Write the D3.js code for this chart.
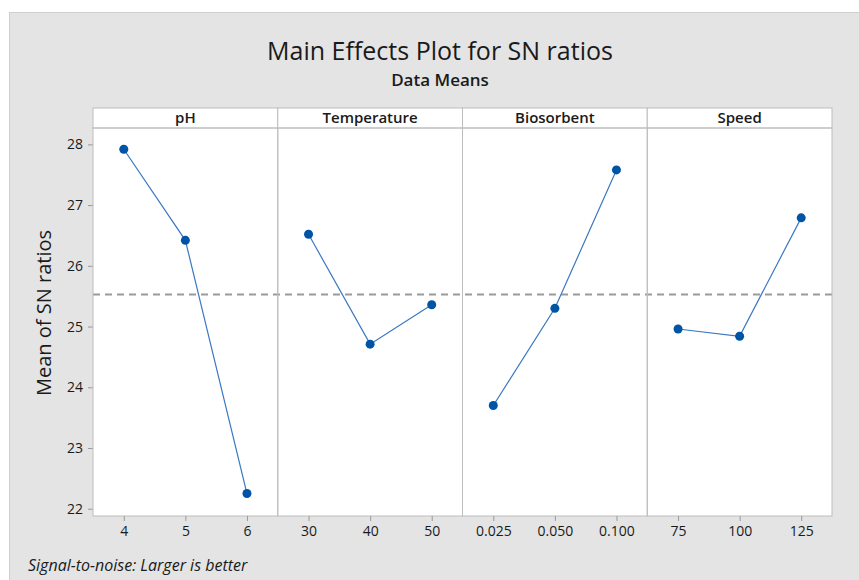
<!DOCTYPE html>
<html>
<head>
<meta charset="utf-8">
<script src="https://cdn.jsdelivr.net/npm/d3@7"></script>
<style>
  body { margin: 0; background: #fff; }
  svg text { font-family: "Open Sans", "Noto Sans", sans-serif; fill: #1a1a1a; }
</style>
</head>
<body>
<div id="chart"></div>
<script>
// factors and their levels
var factors = ["pH", "Temperature", "Biosorbent", "Speed"];
var phLevels = ["4", "5", "6"];
var tempLevels = ["30", "40", "50"];
var bioLevels = ["0.025", "0.050", "0.100"];
var speedLevels = ["75", "100", "125"];
// mean SN ratio per level
var phMeans = [27.92, 26.42, 22.25];
var tempMeans = [26.52, 24.71, 25.36];
var bioMeans = [23.70, 25.30, 27.58];
var speedMeans = [24.96, 24.84, 26.79];
var yTicks = [22, 23, 24, 25, 26, 27, 28];

var levels = [phLevels, tempLevels, bioLevels, speedLevels];
var means = [phMeans, tempMeans, bioMeans, speedMeans];
var grandMean = d3.mean(phMeans.concat(tempMeans, bioMeans, speedMeans));

var W = 859, H = 580;
var plotL = 93, plotR = 832, plotT = 108, stripH = 20, plotB = 516;
var panelW = (plotR - plotL) / factors.length;

var svg = d3.select('#chart').append('svg').attr('width', W).attr('height', H);

svg.append('rect').attr('x', 9.5).attr('y', 12.5).attr('width', W).attr('height', H)
  .attr('fill', '#e4e4e4').attr('stroke', '#cfcfcf');

svg.append('text').attr('x', 440).attr('y', 60).attr('text-anchor', 'middle')
  .style('font-size', '25px').text('Main Effects Plot for SN ratios');
svg.append('text').attr('x', 440).attr('y', 86).attr('text-anchor', 'middle')
  .style('font-size', '17px').style('font-weight', 600).text('Data Means');

var y = d3.scaleLinear().domain([21.88, 28.27]).range([plotB, plotT + stripH]);

// plot area background
svg.append('rect').attr('x', plotL).attr('y', plotT).attr('width', plotR - plotL).attr('height', plotB - plotT)
  .attr('fill', '#fff');

// y axis
var yAxis = svg.append('g').attr('transform', 'translate(' + plotL + ',0)')
  .call(d3.axisLeft(y).tickValues(yTicks).tickFormat(d3.format('d')).tickSize(5).tickPadding(5));
yAxis.select('.domain').remove();
yAxis.selectAll('line').attr('stroke', '#9a9a9a');
yAxis.selectAll('text').style('font-size', '14px').style('font-family', '"Open Sans", sans-serif').attr('fill', '#1a1a1a');

svg.append('text').attr('transform', 'translate(51,313) rotate(-90)').attr('text-anchor', 'middle')
  .style('font-size', '20px').text('Mean of SN ratios');

// mean reference line
svg.append('line').attr('x1', plotL).attr('x2', plotR).attr('y1', y(grandMean)).attr('y2', y(grandMean))
  .attr('stroke', '#9a9a9a').attr('stroke-width', 2).attr('stroke-dasharray', '7,5');

factors.forEach(function(f, i) {
  var x0 = plotL + i * panelW;
  var g = svg.append('g').attr('transform', 'translate(' + x0 + ',0)');
  var x = d3.scalePoint().domain(levels[i]).range([0, panelW]).padding(0.5);

  // strip
  g.append('rect').attr('x', 0).attr('y', plotT).attr('width', panelW).attr('height', stripH)
    .attr('fill', '#fff').attr('stroke', '#bdbdbd');
  g.append('text').attr('x', panelW / 2).attr('y', plotT + 15).attr('text-anchor', 'middle')
    .style('font-size', '15px').style('font-weight', 600).text(f);

  // panel border
  g.append('rect').attr('x', 0).attr('y', plotT + stripH).attr('width', panelW).attr('height', plotB - plotT - stripH)
    .attr('fill', 'none').attr('stroke', '#bdbdbd');

  var data = levels[i].map(function(l, j) { return { level: l, value: means[i][j] }; });

  g.append('path').datum(data)
    .attr('d', d3.line().x(function(d) { return x(d.level); }).y(function(d) { return y(d.value); }))
    .attr('fill', 'none').attr('stroke', '#3a78c2').attr('stroke-width', 1.2);

  g.selectAll('circle').data(data).enter().append('circle')
    .attr('cx', function(d) { return x(d.level); }).attr('cy', function(d) { return y(d.value); })
    .attr('r', 4.5).attr('fill', '#0054a6');

  var xAxis = g.append('g').attr('transform', 'translate(0,' + plotB + ')')
    .call(d3.axisBottom(x).tickSize(5).tickPadding(5));
  xAxis.select('.domain').remove();
  xAxis.selectAll('line').attr('stroke', '#9a9a9a');
  xAxis.selectAll('text').style('font-size', '14px').style('font-family', '"Open Sans", sans-serif').attr('fill', '#1a1a1a');
});

svg.append('text').attr('x', 28).attr('y', 571).style('font-size', '16px').style('font-style', 'italic')
  .text('Signal-to-noise: Larger is better');
</script>
</body>
</html>
